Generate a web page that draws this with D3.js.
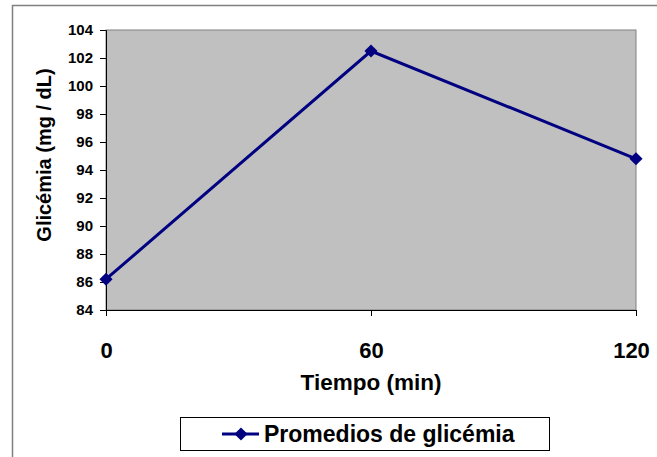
<!DOCTYPE html>
<html><head><meta charset="utf-8">
<script src="https://cdn.jsdelivr.net/npm/d3@7"></script>
<style>html,body{margin:0;padding:0;background:#fff;}svg{display:block;}</style>
</head><body>
<svg id="c" width="657" height="457"></svg>
<script>
const times = [0, 60, 120];
const glucose = [86.2, 102.5, 94.8];
const yTicks = [84, 86, 88, 90, 92, 94, 96, 98, 100, 102, 104];
const xTicks = [0, 60, 120];
const seriesName = "Promedios de glicémia";
const xTitle = "Tiempo (min)";
const yTitle = "Glicémia (mg / dL)";

const svg = d3.select("#c");
const font = "Arial, 'Liberation Sans', sans-serif";
const navy = "#000080";

// outer frame
svg.append("rect").attr("x", 12.5).attr("y", 5.5).attr("width", 700).attr("height", 500)
  .attr("fill", "#fff").attr("stroke", "#808080").attr("stroke-width", 1.5);

const L = 106, R = 636, T = 30, B = 310;
const x = d3.scaleLinear().domain([0, 120]).range([L, R]);
const y = d3.scaleLinear().domain([84, 104]).range([B, T]);

// plot area
svg.append("rect").attr("x", L).attr("y", T).attr("width", R - L).attr("height", B - T)
  .attr("fill", "#c0c0c0").attr("stroke", "#808080").attr("stroke-width", 1);

// axes
const yAxis = d3.axisLeft(y).tickValues(yTicks).tickSize(6).tickPadding(7).tickFormat(d3.format("d"));
const gy = svg.append("g").attr("transform", `translate(${L},0)`).call(yAxis);
gy.select(".domain").attr("stroke", "#000");
gy.selectAll(".tick line").attr("stroke", "#000");
gy.selectAll(".tick text").attr("font-family", font).attr("font-weight", "bold")
  .attr("font-size", 15).attr("fill", "#000");

const xAxis = d3.axisBottom(x).tickValues(xTicks).tickSize(6).tickPadding(26).tickFormat(d3.format("d"));
const gx = svg.append("g").attr("transform", `translate(0,${B})`).call(xAxis);
gx.select(".domain").attr("stroke", "#000");
gx.selectAll(".tick line").attr("stroke", "#000");
gx.selectAll(".tick text").attr("font-family", font).attr("font-weight", "bold")
  .attr("font-size", 22).attr("fill", "#000");
gx.selectAll(".tick text").filter(d => d === xTicks[xTicks.length - 1]).attr("dx", -5);

// titles
svg.append("text").attr("x", 371).attr("y", 390).attr("text-anchor", "middle")
  .attr("font-family", font).attr("font-weight", "bold").attr("font-size", 22.5).text(xTitle);
svg.append("text").attr("transform", "translate(51,155) rotate(-90)").attr("text-anchor", "middle")
  .attr("font-family", font).attr("font-weight", "bold").attr("font-size", 20).text(yTitle);

// series
const data = times.map((t, i) => ({t, v: glucose[i]}));
const line = d3.line().x(d => x(d.t)).y(d => y(d.v));
svg.append("path").datum(data).attr("d", line).attr("fill", "none")
  .attr("stroke", navy).attr("stroke-width", 3);
const diamond = d3.symbol().type(d3.symbolDiamond2).size(110);
svg.selectAll(".mk").data(data).enter().append("path")
  .attr("transform", d => `translate(${x(d.t)},${y(d.v)})`).attr("d", diamond).attr("fill", navy);

// legend
const lg = svg.append("g");
lg.append("rect").attr("x", 180.5).attr("y", 417.5).attr("width", 369).attr("height", 33)
  .attr("fill", "#fff").attr("stroke", "#000").attr("stroke-width", 1);
lg.append("line").attr("x1", 222).attr("x2", 259).attr("y1", 434).attr("y2", 434)
  .attr("stroke", navy).attr("stroke-width", 3);
lg.append("path").attr("transform", "translate(241,434)").attr("d", diamond).attr("fill", navy);
lg.append("text").attr("x", 264).attr("y", 442).attr("font-family", font).attr("font-weight", "bold")
  .attr("font-size", 23).text(seriesName);
</script>
</body></html>
